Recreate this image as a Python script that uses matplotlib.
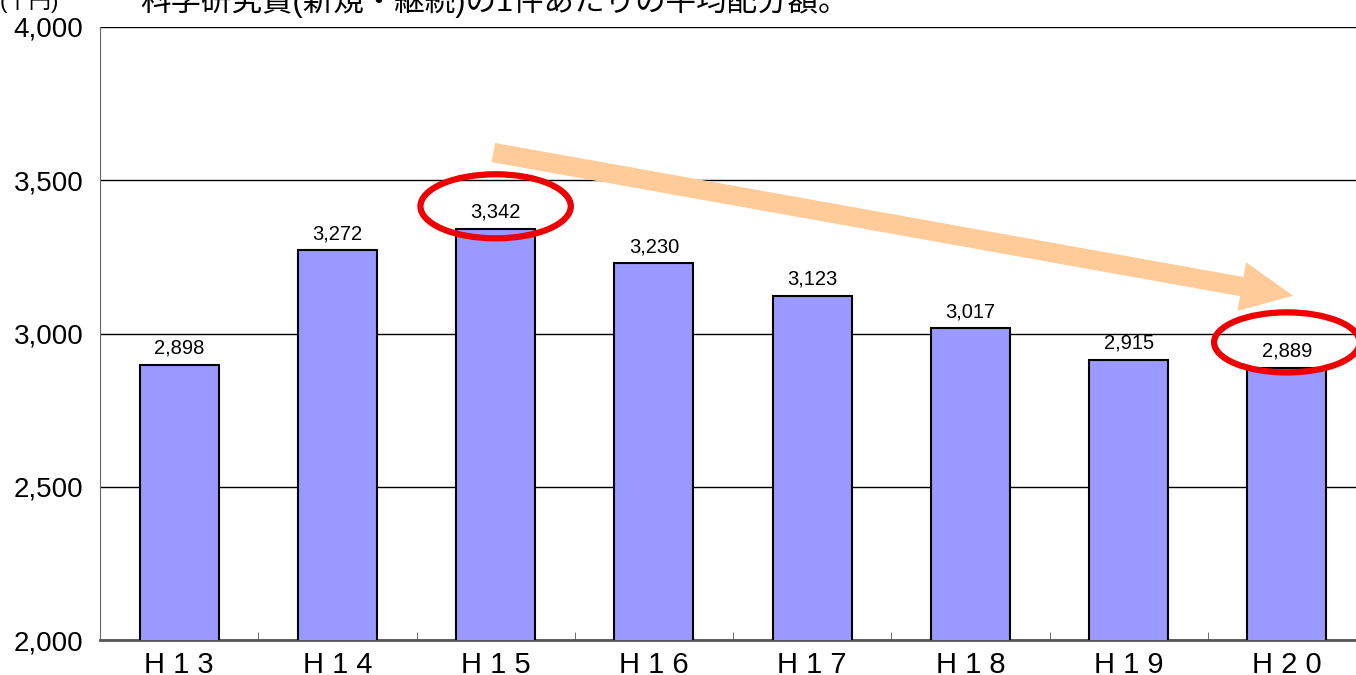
import numpy as np
import matplotlib.pyplot as plt
from matplotlib.patches import Ellipse, FancyArrowPatch

plt.rcParams['font.family'] = ['Liberation Sans', 'Noto Sans CJK JP', 'DejaVu Sans']

# data
years = ['H 1 3', 'H 1 4', 'H 1 5', 'H 1 6', 'H 1 7', 'H 1 8', 'H 1 9', 'H 2 0']
amounts = [2898, 3272, 3342, 3230, 3123, 3017, 2915, 2889]
y_ticks = [2000, 2500, 3000, 3500, 4000]
title = '科学研究費(新規・継続)の1件あたりの平均配分額。'
unit = '(千円)'

bar_color = '#9999FF'

fig = plt.figure(figsize=(13.56, 6.75), dpi=100)
ax = fig.add_axes([100 / 1356, 35 / 675, 1266 / 1356, 613 / 675])

x = np.arange(len(years))
ax.bar(x, amounts, width=0.5, color=bar_color, edgecolor='black', linewidth=1.5, zorder=3)

for xi, v in zip(x, amounts):
    ax.annotate(f'{v:,}', (xi, v), xytext=(0, 5), textcoords='offset points',
                ha='center', va='bottom', fontsize=14.5, zorder=5)

ax.set_xlim(-0.5, len(years) - 0.5)
ax.set_ylim(y_ticks[0], y_ticks[-1])
ax.set_yticks(y_ticks)
ax.set_yticklabels([f'{t:,}' for t in y_ticks], fontsize=20)
ax.tick_params(axis='y', length=0, pad=12)

ax.set_xticks(x)
ax.set_xticklabels(years, fontsize=21)
ax.tick_params(axis='x', length=0, pad=8)
ax.set_xticks(x[:-1] + 0.5, minor=True)
ax.tick_params(axis='x', which='minor', direction='in', length=6, color='#555555')

ax.yaxis.grid(True, color='black', linewidth=1.0, zorder=0)
ax.set_axisbelow(True)
for s in ['top', 'right']:
    ax.spines[s].set_visible(False)
ax.spines['left'].set_color('#666666')
ax.spines['bottom'].set_color('#555555')
ax.spines['bottom'].set_linewidth(2)

# highlight ellipses around the H15 and H20 labels
for idx, w, h, dy in [(2, 0.95, 209, 73), (7, 0.92, 196, 82)]:
    ax.add_patch(Ellipse((idx, amounts[idx] + dy), w, h, fill=False, edgecolor='#EE0000',
                         linewidth=4.5, zorder=6, clip_on=False))

# trend arrow
arrow = FancyArrowPatch((1.99, 3590), (7.03, 3124),
                        arrowstyle='simple,head_length=36,head_width=34,tail_width=13',
                        mutation_scale=1, color='#FFCC99', shrinkA=0, shrinkB=0, zorder=4)
ax.add_patch(arrow)

fig.text(0.0, 1.0 - 1 / 675, unit, fontsize=16, ha='left', va='center')
fig.text(140 / 1356, 1.0 - 1 / 675, title, fontsize=22, ha='left', va='center')

fig.savefig('out.png', dpi=100)
